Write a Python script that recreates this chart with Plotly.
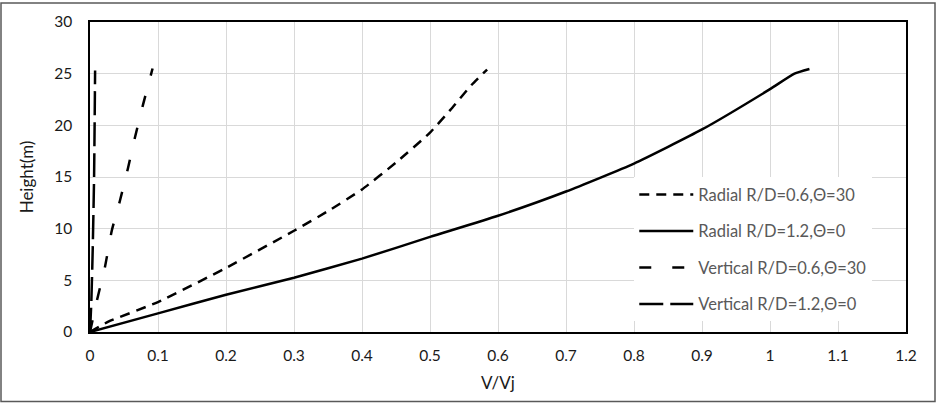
import plotly.graph_objects as go

# Radial R/D=0.6, Θ=30
rad06_v = [0, 0.027, 0.1, 0.2, 0.3, 0.35, 0.4, 0.45, 0.5, 0.53, 0.561, 0.584]
rad06_h = [0, 1.0, 2.9, 6.2, 9.8, 11.7, 13.8, 16.4, 19.3, 21.5, 23.9, 25.4]

# Radial R/D=1.2, Θ=0
rad12_v = [0, 0.1, 0.2, 0.3, 0.4, 0.5, 0.6, 0.7, 0.8, 0.9, 1.0, 1.036, 1.058]
rad12_h = [0, 1.8, 3.6, 5.25, 7.1, 9.2, 11.25, 13.6, 16.3, 19.6, 23.5, 25.0, 25.45]

# Vertical R/D=0.6, Θ=30
ver06_v = [0, 0.01, 0.022, 0.032, 0.044, 0.056, 0.066, 0.078, 0.092]
ver06_h = [0, 3.0, 6.3, 9.8, 12.7, 15.9, 18.8, 22.0, 25.5]

# Vertical R/D=1.2, Θ=0
ver12_v = [0, 0.002, 0.004, 0.006, 0.0075]
ver12_h = [0, 3.0, 8.0, 15.0, 25.3]

names = ["Radial R/D=0.6,Θ=30", "Radial R/D=1.2,Θ=0",
         "Vertical R/D=0.6,Θ=30", "Vertical R/D=1.2,Θ=0"]
x_ticks = [0, 0.1, 0.2, 0.3, 0.4, 0.5, 0.6, 0.7, 0.8, 0.9, 1, 1.1, 1.2]
x_ticktext = ["0", "0.1", "0.2", "0.3", "0.4", "0.5", "0.6", "0.7", "0.8", "0.9", "1", "1.1", "1.2"]
y_ticks = [0, 5, 10, 15, 20, 25, 30]

series = [
    (rad06_v, rad06_h, "10px,7px"),
    (rad12_v, rad12_h, "solid"),
    (ver06_v, ver06_h, "12px,21px"),
    (ver12_v, ver12_h, "24px,7px"),
]

fig = go.Figure()
for i, ((xv, yv, dash), nm) in enumerate(zip(series, names)):
    fig.add_trace(go.Scatter(
        x=xv, y=yv, mode="lines", name=nm, legendgroup=f"g{i}",
        line=dict(color="black", width=2.5, dash=dash, shape="spline", smoothing=0.5),
    ))

FONT = "Lato"
TXT = "#1a1a1a"
fig.update_layout(
    width=938, height=404,
    margin=dict(l=90, r=32, t=20, b=72),
    paper_bgcolor="white", plot_bgcolor="white",
    font=dict(family=FONT, size=15, color=TXT),
    showlegend=True,
    legend=dict(
        x=0.667, y=0.499, xanchor="left", yanchor="top",
        bgcolor="white", borderwidth=0,
        font=dict(family=FONT, size=16.5, color="#595959"),
        traceorder="grouped", tracegroupgap=12, itemwidth=54,
    ),
    xaxis=dict(
        range=[0, 1.2], tickmode="array", tickvals=x_ticks, ticktext=x_ticktext,
        showgrid=True, gridcolor="#d9d9d9", gridwidth=1,
        showline=True, linecolor="black", linewidth=1.5, mirror=True,
        zeroline=False, ticks="", ticklabelstandoff=9,
        tickfont=dict(family=FONT, size=15.5, color=TXT),
        title=dict(text="V/Vj", font=dict(family=FONT, size=17, color=TXT), standoff=14),
    ),
    yaxis=dict(
        range=[0, 30], tickmode="array", tickvals=y_ticks,
        showgrid=True, gridcolor="#d9d9d9", gridwidth=1,
        showline=True, linecolor="black", linewidth=1.5, mirror=True,
        zeroline=False, ticks="", ticklabelstandoff=13,
        tickfont=dict(family=FONT, size=15.5, color=TXT),
        title=dict(text="Height(m)", font=dict(family=FONT, size=17, color=TXT), standoff=16),
    ),
    shapes=[dict(
        type="rect", xref="paper", yref="paper",
        x0=(1 - 90) / 816, x1=(935 - 90) / 816,
        y0=(332 - 402) / 312, y1=(332 - 1) / 312,
        line=dict(color="#595959", width=1.5), layer="below",
    )],
)

fig.write_html("out.html")
